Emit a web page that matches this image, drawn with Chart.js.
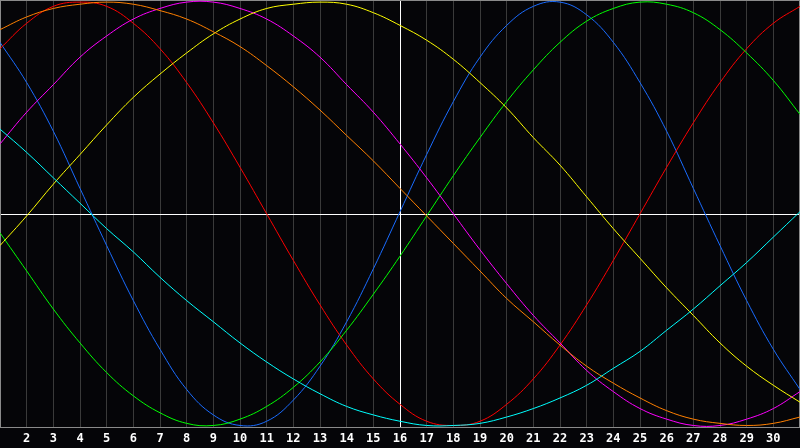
<!DOCTYPE html>
<html>
<head>
<meta charset="utf-8">
<script src="https://cdn.jsdelivr.net/npm/chart.js@4.4.1/dist/chart.umd.min.js"></script>
<style>
  html, body { margin: 0; padding: 0; background: #050508; }
  #wrap { width: 800px; height: 448px; position: relative; }
</style>
</head>
<body>
<div id="wrap"><canvas id="c"></canvas></div>
<script>
const days = [1,2,3,4,5,6,7,8,9,10,11,12,13,14,15,16,17,18,19,20,21,22,23,24,25,26,27,28,29,30,31];
const tickDays = [2,3,4,5,6,7,8,9,10,11,12,13,14,15,16,17,18,19,20,21,22,23,24,25,26,27,28,29,30];
const markerDay = 16;

const blue    = [0.81,0.62,0.39,0.12,-0.15,-0.41,-0.64,-0.83,-0.95,-1.00,-0.98,-0.88,-0.72,-0.51,-0.26,0.01,0.28,0.53,0.74,0.89,0.98,1.00,0.94,0.81,0.62,0.39,0.12,-0.15,-0.41,-0.64,-0.83];
const red     = [0.78,0.90,0.98,1.00,0.98,0.90,0.78,0.62,0.43,0.22,0.00,-0.22,-0.43,-0.62,-0.78,-0.90,-0.98,-1.00,-0.98,-0.90,-0.78,-0.62,-0.43,-0.22,0.00,0.22,0.43,0.62,0.78,0.90,0.98];
const green   = [-0.09,-0.27,-0.45,-0.61,-0.75,-0.86,-0.94,-0.99,-1.00,-0.97,-0.91,-0.82,-0.70,-0.55,-0.38,-0.20,-0.01,0.18,0.36,0.53,0.68,0.81,0.91,0.97,1.00,0.99,0.95,0.87,0.76,0.63,0.47];
const magenta = [0.33,0.48,0.61,0.74,0.84,0.92,0.97,1.00,1.00,0.97,0.92,0.84,0.74,0.61,0.48,0.33,0.17,0.00,-0.17,-0.33,-0.48,-0.61,-0.74,-0.84,-0.92,-0.97,-1.00,-1.00,-0.97,-0.92,-0.84];
const yellow  = [-0.15,-0.01,0.14,0.28,0.42,0.55,0.66,0.76,0.85,0.92,0.97,0.99,1.00,0.99,0.95,0.89,0.82,0.73,0.62,0.50,0.36,0.23,0.08,-0.07,-0.21,-0.35,-0.48,-0.61,-0.72,-0.81,-0.89];
const orange  = [0.87,0.93,0.97,0.99,1.00,0.99,0.96,0.92,0.86,0.79,0.70,0.60,0.49,0.37,0.25,0.12,-0.01,-0.14,-0.27,-0.40,-0.51,-0.62,-0.72,-0.80,-0.87,-0.93,-0.97,-0.99,-1.00,-0.99,-0.96];
const cyan    = [0.40,0.29,0.17,0.05,-0.07,-0.18,-0.30,-0.41,-0.51,-0.61,-0.70,-0.78,-0.85,-0.91,-0.95,-0.98,-1.00,-1.00,-0.99,-0.96,-0.92,-0.87,-0.81,-0.73,-0.65,-0.55,-0.45,-0.34,-0.23,-0.11,0.01];

const seriesList = [
  { name: 'cyan', data: cyan, color: '#00ffff' },
  { name: 'orange', data: orange, color: '#ff8000' },
  { name: 'yellow', data: yellow, color: '#ffff00' },
  { name: 'magenta', data: magenta, color: '#ff00ff' },
  { name: 'green', data: green, color: '#00ff00' },
  { name: 'red', data: red, color: '#ff0000' },
  { name: 'blue', data: blue, color: '#1a6cff' }
];

const YMAX = 1.01, YMIN = -1.01;

const datasets = seriesList.map(s => ({
  label: s.name,
  data: days.map((d, i) => ({ x: d, y: s.data[i] })),
  borderColor: s.color,
  borderWidth: 1,
  pointRadius: 0,
  fill: false,
  tension: 0.4
}));

const framePlugin = {
  id: 'frame',
  beforeDatasetsDraw(chart) {
    const { ctx, chartArea: a, scales } = chart;
    ctx.save();
    ctx.lineWidth = 1;
    const y0 = Math.round(scales.y.getPixelForValue(0)) + 0.5;
    ctx.strokeStyle = '#ffffff';
    ctx.beginPath(); ctx.moveTo(a.left, y0); ctx.lineTo(a.right, y0); ctx.stroke();
    ctx.strokeStyle = '#8a8a8a';
    ctx.strokeRect(Math.floor(a.left) + 0.5, Math.floor(a.top) + 0.5,
                   Math.floor(a.right) - Math.floor(a.left) - 1, Math.floor(a.bottom) - Math.floor(a.top));
    ctx.restore();
  }
};

new Chart(document.getElementById('c'), {
  type: 'line',
  data: { datasets },
  plugins: [framePlugin],
  options: {
    responsive: true,
    maintainAspectRatio: false,
    animation: false,
    layout: { padding: 0 },
    plugins: { legend: { display: false }, tooltip: { enabled: false } },
    scales: {
      x: {
        type: 'linear',
        min: days[0],
        max: days[days.length - 1],
        afterBuildTicks: (scale) => { scale.ticks = days.map(v => ({ value: v })); },
        ticks: {
          autoSkip: false,
          maxRotation: 0,
          color: '#ffffff',
          padding: 0,
          font: { family: 'DejaVu Sans Mono', weight: 'bold', size: 12, lineHeight: 1.45 },
          callback: (v) => tickDays.includes(v) ? String(v) : ''
        },
        grid: {
          drawTicks: true,
          tickLength: 3,
          tickColor: 'rgba(0,0,0,0)',
          lineWidth: 1,
          color: (ctx) => {
            const v = ctx.tick && ctx.tick.value;
            if (v === markerDay) return '#ffffff';
            if (v === days[0] || v === days[days.length - 1]) return 'rgba(0,0,0,0)';
            return '#3a3a3a';
          }
        },
        border: { display: false }
      },
      y: {
        display: false,
        min: YMIN,
        max: YMAX
      }
    }
  }
});
</script>
</body>
</html>
